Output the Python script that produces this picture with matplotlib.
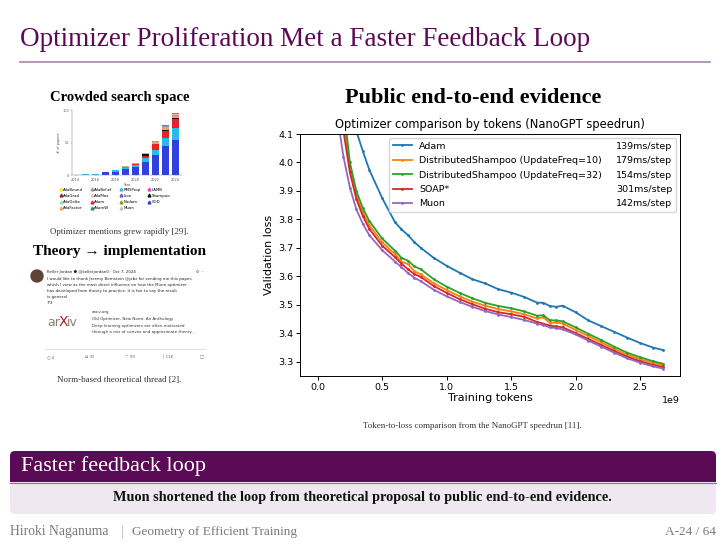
import matplotlib
matplotlib.use("Agg")
import matplotlib.pyplot as plt
import numpy as np
from matplotlib.patches import FancyBboxPatch, Circle
from matplotlib.lines import Line2D

# ---- main chart data: validation loss vs training tokens (billions) ----
tokens_b = [0.15, 0.20, 0.25, 0.30, 0.35, 0.40, 0.50, 0.60, 0.65, 0.70, 0.75,
            0.80, 0.90, 1.00, 1.10, 1.20, 1.30, 1.40, 1.50, 1.60, 1.70, 1.75,
            1.80, 1.85, 1.90, 2.00, 2.10, 2.20, 2.30, 2.40, 2.50, 2.60, 2.68]
adam = [4.60, 4.40, 4.22, 4.11, 4.04, 3.975, 3.875, 3.79, 3.765, 3.745, 3.72,
        3.70, 3.665, 3.637, 3.613, 3.59, 3.575, 3.555, 3.543, 3.528, 3.508, 3.507,
        3.496, 3.493, 3.497, 3.474, 3.445, 3.425, 3.405, 3.385, 3.366, 3.350, 3.341]
shampoo10 = [4.50, 4.15, 3.98, 3.885, 3.825, 3.78, 3.72, 3.678, 3.652, 3.643, 3.618,
             3.607, 3.576, 3.552, 3.530, 3.511, 3.497, 3.485, 3.477, 3.467, 3.452, 3.456,
             3.437, 3.438, 3.434, 3.412, 3.390, 3.368, 3.345, 3.325, 3.309, 3.296, 3.288]
shampoo32 = [4.60, 4.20, 4.00, 3.90, 3.84, 3.795, 3.733, 3.69, 3.665, 3.655, 3.635,
             3.625, 3.59, 3.564, 3.542, 3.523, 3.507, 3.496, 3.488, 3.477, 3.462, 3.463,
             3.446, 3.445, 3.442, 3.421, 3.398, 3.376, 3.353, 3.332, 3.316, 3.302, 3.293]
soap = [4.45, 4.11, 3.965, 3.872, 3.812, 3.767, 3.708, 3.667, 3.645, 3.625, 3.608,
        3.598, 3.566, 3.542, 3.520, 3.502, 3.486, 3.474, 3.467, 3.458, 3.440, 3.434,
        3.427, 3.424, 3.421, 3.401, 3.380, 3.359, 3.338, 3.318, 3.302, 3.289, 3.282]
muon = [4.17, 4.02, 3.912, 3.835, 3.785, 3.745, 3.692, 3.652, 3.632, 3.612, 3.595,
        3.583, 3.553, 3.530, 3.510, 3.493, 3.478, 3.466, 3.457, 3.447, 3.434, 3.429,
        3.421, 3.418, 3.414, 3.396, 3.374, 3.353, 3.332, 3.312, 3.297, 3.284, 3.276]
series_names = ["Adam", "DistributedShampoo (UpdateFreq=10)",
                "DistributedShampoo (UpdateFreq=32)", "SOAP*", "Muon"]
step_times = ["139ms/step", "179ms/step", "154ms/step", "301ms/step", "142ms/step"]
y_ticks = [3.3, 3.4, 3.5, 3.6, 3.7, 3.8, 3.9, 4.0, 4.1]

# ---- thumbnail: optimizer mentions per year (stacked) ----
years = [2015, 2016, 2017, 2018, 2019, 2020, 2021, 2022, 2023, 2024]
mention_names = ["AdaBound", "AdaGrad", "AdaDelta", "AdaFactor",
                 "AdaBelief", "AdaMax", "Adam", "AdamW",
                 "RMSProp", "Lion", "Nadam", "Muon",
                 "LAMB", "Shampoo", "SGD"]
mention_colors = ["#f5e33b", "#8e2a3c", "#9fe0b0", "#e9a66a",
                  "#9a9a9a", "#f6b8c8", "#e8202a", "#1f8f80",
                  "#2bbbe8", "#7b4fc4", "#8c9a1e", "#c4c4c4",
                  "#e040c8", "#111111", "#2f3fe0"]
mentions = {
    "SGD":       [0, 0, 4.5, 5, 9, 13, 20, 31, 44, 54],
    "RMSProp":   [1.5, 1.5, 0.5, 2, 2, 3, 6, 8, 13, 19],
    "Nadam":     [0, 0, 0, 0, 2, 0, 0, 0, 0, 0],
    "Adam":      [0, 0, 0, 0, 0, 0.5, 4, 8, 10, 13],
    "Shampoo":   [0, 0, 0, 0, 0, 1, 2, 1, 3, 2],
    "AdaFactor": [0, 0, 0, 0, 1, 0.5, 1.5, 3, 4, 3],
    "AdaBelief": [0, 0, 0, 0, 0, 0, 0.5, 1, 1.5, 2],
    "AdaMax":    [0, 0, 0, 0, 0, 0, 0, 0, 0.5, 1],
    "LAMB":      [0, 0, 0, 0, 0, 0, 0, 0, 0.5, 1.5],
}
stack_order = ["SGD", "RMSProp", "Nadam", "Adam", "Shampoo", "AdaFactor",
               "AdaBelief", "AdaMax", "LAMB"]

PURPLE = "#5b0b56"
SERIF = "Liberation Serif"

fig = plt.figure(figsize=(7.26, 5.44), dpi=100)

# slide overlay in pixel coordinates
ov = fig.add_axes([0, 0, 1, 1])
ov.set_xlim(0, 726)
ov.set_ylim(544, 0)
ov.axis("off")

ov.text(20, 40, "Optimizer Proliferation Met a Faster Feedback Loop", fontsize=19.5,
        family=SERIF, color=PURPLE, va="center", ha="left")
ov.plot([20, 710], [62, 62], color="#b38db3", lw=1.3)

ov.text(119.5, 97, "Crowded search space", fontsize=10.5, family=SERIF,
        weight="bold", ha="center", va="center")
ov.text(119.5, 232, "Optimizer mentions grew rapidly [29].", fontsize=6.4,
        family=SERIF, ha="center", va="center", color="#333333")
ov.text(119.5, 252, "Theory \u2192 implementation", fontsize=11, family=SERIF,
        weight="bold", ha="center", va="center")
ov.text(119.5, 380, "Norm-based theoretical thread [2].", fontsize=6.4,
        family=SERIF, ha="center", va="center", color="#333333")
ov.text(473, 98, "Public end-to-end evidence", fontsize=16, family=SERIF,
        weight="bold", ha="center", va="center")
ov.text(472, 426, "Token-to-loss comparison from the NanoGPT speedrun [11].",
        fontsize=6.4, family=SERIF, ha="center", va="center", color="#333333")

# tweet screenshot (rough)
ov.add_patch(Circle((37, 276), 6, color="#5d4436"))
tw = dict(fontsize=2.9, family="DejaVu Sans", va="center", ha="left")
ov.text(47, 272, "Keller Jordan \u25cf @kellerjordan0 \u00b7 Oct 7, 2024", color="#222222",
        **tw)
ov.text(196, 272, "\u2699 \u00b7\u00b7\u00b7", color="#555555", **tw)
tweet_lines = ["I would like to thank Jeremy Bernstein @jxbz for sending me this paper,",
               "which I view as the most direct influence on how the Muon optimizer",
               "has developed from theory to practice. It is fair to say the result",
               "is general.",
               "7/3"]
for i, line in enumerate(tweet_lines):
    ov.text(47, 279 + 6 * i, line, color="#222222", **tw)
ov.text(47, 322, "ar", fontsize=9, family="DejaVu Sans", color="#8a7a7a", va="center")
ov.text(59, 322, "X", fontsize=10, family="DejaVu Sans", color="#b31b1b", va="center")
ov.text(67, 322, "iv", fontsize=9, family="DejaVu Sans", color="#8a7a7a", va="center")
card_lines = ["arxiv.org",
              "Old Optimizer, New Norm: An Anthology",
              "Deep learning optimizers are often motivated",
              "through a mix of convex and approximate theory..."]
for i, line in enumerate(card_lines):
    ov.text(92, 312 + 6.8 * i, line, color="#333333", **tw)
ov.plot([45, 205], [349, 349], color="#dddddd", lw=0.6)
for x, s in zip([47, 85, 125, 162, 200], ["\u25cb 4", "\u21c4 35", "\u2661 99", "\u2502 11K", "\u25a1"]):
    ov.text(x, 357, s, color="#666666", **tw)

# block
ov.add_patch(FancyBboxPatch((10, 451), 706, 63, boxstyle="round,pad=0,rounding_size=5",
                            facecolor="#efe8f1", edgecolor="none"))
ov.add_patch(FancyBboxPatch((10, 451), 706, 31, boxstyle="round,pad=0,rounding_size=5",
                            facecolor=PURPLE, edgecolor="none"))
ov.add_patch(plt.Rectangle((10, 472), 706, 10, facecolor=PURPLE, edgecolor="none"))
ov.plot([10, 716], [482.5, 482.5], color="#9a6a98", lw=0.8)
ov.text(21, 466, "Faster feedback loop", fontsize=16, family=SERIF, color="white",
        va="center", ha="left")
ov.text(362, 498, "Muon shortened the loop from theoretical proposal to public end-to-end evidence.",
        fontsize=10.3, family=SERIF, weight="bold", ha="center", va="center", color="#111111")

# footer
ov.text(10, 532, "Hiroki Naganuma", fontsize=9.8, family=SERIF, color="#7a7a7a", va="center")
ov.text(121, 532, "|", fontsize=9.5, family=SERIF, color="#aaaaaa", va="center")
ov.text(132, 532, "Geometry of Efficient Training", fontsize=9.5, family=SERIF,
        color="#7a7a7a", va="center")
ov.text(716, 532, "A-24 / 64", fontsize=9.5, family=SERIF, color="#7a7a7a", va="center", ha="right")

# ---- thumbnail bar chart ----
tb = fig.add_axes([71.7 / 726, 1 - 175 / 544, 110 / 726, 65 / 544])
bottom = np.zeros(len(years))
color_of = dict(zip(mention_names, mention_colors))
for name in stack_order:
    vals = np.array(mentions[name], dtype=float)
    tb.bar(years, vals, bottom=bottom, width=0.75, color=color_of[name])
    bottom += vals
tb.set_xticks([2014, 2016, 2018, 2020, 2022, 2024])
tb.set_yticks([0, 50, 100])
tb.set_ylim(0, 100)
tb.set_xlim(2013.6, 2024.6)
tb.tick_params(labelsize=2.5, length=1, width=0.3, pad=1, colors="#555555")
tb.set_xlabel("Year", fontsize=2.5, labelpad=1, color="#555555")
tb.set_ylabel("# of papers", fontsize=2.5, labelpad=1, color="#555555")
for side in ["top", "right"]:
    tb.spines[side].set_visible(False)
for side in ["left", "bottom"]:
    tb.spines[side].set_linewidth(0.3)
    tb.spines[side].set_color("#777777")
thumb_handles = [Line2D([], [], marker="^", linestyle="none", color=c, markersize=2)
                 for c in mention_colors]
tb.legend(thumb_handles, mention_names, ncol=4, fontsize=2.8, frameon=False,
          loc="upper left", bbox_to_anchor=(-0.15, -0.14), handletextpad=0.2,
          columnspacing=1.6, labelspacing=0.55, handlelength=1.0)

# ---- main chart ----
ax = fig.add_axes([300 / 726, 1 - 376 / 544, 380 / 726, 242 / 544])
tokens = np.array(tokens_b) * 1e9
lines = []
for name, vals, col in zip(series_names, [adam, shampoo10, shampoo32, soap, muon],
                           ["C0", "C1", "C2", "C3", "C4"]):
    (ln,) = ax.plot(tokens, vals, color=col, lw=1.3, marker=".", markersize=2, label=name)
    lines.append(ln)
ax.set_xlim(-0.137e9, 2.81e9)
ax.set_ylim(3.25, 4.1)
ax.set_yticks(y_ticks)
ax.tick_params(labelsize=6.8, length=3, width=0.7, pad=2)
ax.xaxis.get_offset_text().set_fontsize(6.8)
ax.set_xlabel("Training tokens", fontsize=8, labelpad=1)
ax.set_ylabel("Validation loss", fontsize=8, labelpad=3)
ax.set_title("Optimizer comparison by tokens (NanoGPT speedrun)", fontsize=8.3, pad=4)
for s in ax.spines.values():
    s.set_linewidth(0.7)

blank = [Line2D([], [], linestyle="none") for _ in step_times]
ax.legend(lines + blank, series_names + step_times, ncol=2, fontsize=6.8,
          loc="upper right", columnspacing=-1.3, borderaxespad=0.4,
          handlelength=2.0, labelspacing=0.58)

fig.savefig("out.png", dpi=100)
